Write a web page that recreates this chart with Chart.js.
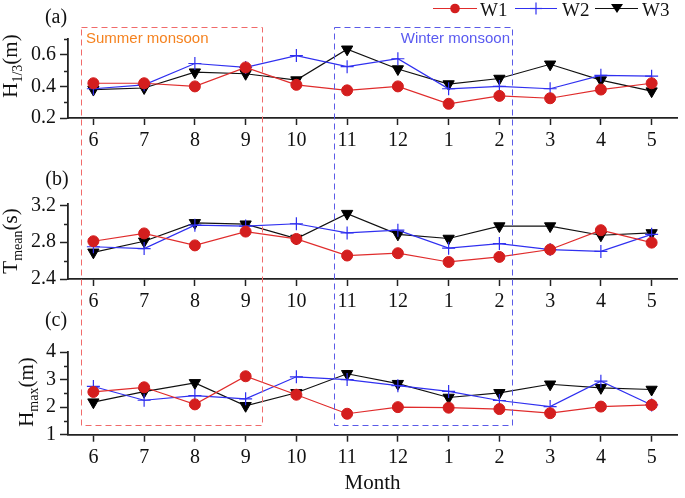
<!DOCTYPE html>
<html lang="en">
<head>
<meta charset="UTF-8">
<title>Monthly wave parameters</title>
<script src="https://cdn.jsdelivr.net/npm/chart.js"></script>
<style>
  body { margin: 0; background: #fff; }
  #wrap { position: relative; width: 685px; height: 498px; overflow: hidden;
          font-family: "Liberation Serif", "Times New Roman", serif; color: #111; }
  canvas { position: absolute; left: 0; }
  .ytitle { position: absolute; transform: translate(-50%, -50%) rotate(-90deg);
            white-space: nowrap; font-size: 21px; line-height: 1; }
  .ytitle sub { font-size: 14px; vertical-align: -5px; line-height: 0; }
  .plabel { position: absolute; font-size: 20px; line-height: 1; transform: translate(-50%, -50%); }
  svg { position: absolute; left: 0; top: 0; pointer-events: none; }
</style>
</head>
<body>
<div id="wrap">
  <canvas id="chartA" width="685" height="160" style="top:0"></canvas>
  <canvas id="chartB" width="685" height="170" style="top:150px"></canvas>
  <canvas id="chartC" width="685" height="188" style="top:310px"></canvas>

  <div class="ytitle" style="left:10px; top:66px">H<sub>1/3</sub>(m)</div>
  <div class="ytitle" style="left:10px; top:241px">T<sub>mean</sub>(s)</div>
  <div class="ytitle" style="left:26px; top:392px">H<sub>max</sub>(m)</div>

  <div class="plabel" style="left:56px; top:16px">(a)</div>
  <div class="plabel" style="left:57px; top:178px">(b)</div>
  <div class="plabel" style="left:56px; top:319px">(c)</div>

  <svg width="685" height="498">
    <!-- monsoon boxes -->
    <rect x="81.5" y="27.5" width="181" height="398" fill="none" stroke="#f06a6a" stroke-width="1" stroke-dasharray="6,4"/>
    <rect x="334.5" y="27.5" width="178" height="398" fill="none" stroke="#5a5ae8" stroke-width="1" stroke-dasharray="6,4"/>
    <text x="86" y="43" font-family="Liberation Sans, Arial, sans-serif" font-size="15" fill="#f5821f">Summer monsoon</text>
    <text x="510" y="43" text-anchor="end" font-family="Liberation Sans, Arial, sans-serif" font-size="15" fill="#5a5af0">Winter monsoon</text>
    <!-- legend -->
    <line x1="433" y1="8.5" x2="477" y2="8.5" stroke="#e02c2c" stroke-width="1.2"/>
    <circle cx="455" cy="8.5" r="4.8" fill="#d41e1e"/>
    <text x="480" y="15.5" font-family="Liberation Serif, serif" font-size="19" fill="#111">W1</text>
    <line x1="515" y1="8.5" x2="557" y2="8.5" stroke="#3030f0" stroke-width="1.2"/>
    <line x1="530" y1="8.5" x2="542" y2="8.5" stroke="#3030f0" stroke-width="1.2"/>
    <line x1="536" y1="2.5" x2="536" y2="14.5" stroke="#3030f0" stroke-width="1.2"/>
    <text x="562" y="15.5" font-family="Liberation Serif, serif" font-size="19" fill="#111">W2</text>
    <line x1="595" y1="8.5" x2="638" y2="8.5" stroke="#111" stroke-width="1.2"/>
    <path d="M611,4 L623,4 L617,13 Z" fill="#000"/>
    <text x="642" y="15.5" font-family="Liberation Serif, serif" font-size="19" fill="#111">W3</text>
  </svg>
</div>

<script>
  // months, June to May
  const months = ['6', '7', '8', '9', '10', '11', '12', '1', '2', '3', '4', '5'];

  // (a) significant wave height H1/3 (m)
  const h13W1 = [0.42, 0.42, 0.40, 0.52, 0.41, 0.375, 0.40, 0.29, 0.34, 0.325, 0.38, 0.42];
  const h13W2 = [0.385, 0.41, 0.545, 0.52, 0.595, 0.525, 0.575, 0.385, 0.40, 0.385, 0.47, 0.465];
  const h13W3 = [0.38, 0.39, 0.49, 0.48, 0.44, 0.635, 0.51, 0.415, 0.45, 0.54, 0.44, 0.37];

  // (b) mean wave period Tmean (s)
  const tmeanW1 = [2.81, 2.895, 2.765, 2.915, 2.835, 2.655, 2.68, 2.585, 2.64, 2.72, 2.93, 2.795];
  const tmeanW2 = [2.75, 2.73, 2.985, 2.975, 3.0, 2.9, 2.93, 2.735, 2.785, 2.72, 2.70, 2.885];
  const tmeanW3 = [2.69, 2.81, 3.01, 2.995, 2.84, 3.11, 2.885, 2.84, 2.975, 2.975, 2.875, 2.9];

  // (c) maximum wave height Hmax (m)
  const hmaxW1 = [2.55, 2.72, 2.10, 3.12, 2.45, 1.76, 2.0, 1.98, 1.93, 1.78, 2.02, 2.08];
  const hmaxW2 = [2.75, 2.25, 2.42, 2.30, 3.10, 3.0, 2.78, 2.57, 2.24, 2.02, 2.94, 2.08];
  const hmaxW3 = [2.18, 2.56, 2.88, 2.05, 2.52, 3.21, 2.85, 2.35, 2.52, 2.83, 2.70, 2.64];

  const serif = '"Liberation Serif", "Times New Roman", serif';
  const axisColor = '#222';

  // short minor ticks halfway between the labelled ones
  const minorTicks = {
    id: 'minorTicks',
    afterDraw(chart, args, opts) {
      if (!opts.step) return;
      const y = chart.scales.y;
      const ctx = chart.ctx;
      ctx.save();
      ctx.strokeStyle = axisColor;
      ctx.lineWidth = 1.5;
      y.ticks.forEach(t => {
        const v = t.value + opts.step;
        if (v > y.max + 1e-9) return;
        const p = Math.round(y.getPixelForValue(v)) + 0.5;
        ctx.beginPath();
        ctx.moveTo(y.right - 4, p);
        ctx.lineTo(y.right, p);
        ctx.stroke();
      });
      ctx.restore();
    }
  };
  Chart.register(minorTicks);

  function datasets(w1, w2, w3) {
    return [{
      label: 'W1', data: w1,
      borderColor: '#e02c2c', borderWidth: 1.2,
      pointStyle: 'circle', pointRadius: 5.5,
      pointBackgroundColor: '#d41e1e', pointBorderColor: '#d41e1e', pointBorderWidth: 1
    }, {
      label: 'W2', data: w2,
      borderColor: '#3030f0', borderWidth: 1.2,
      pointStyle: 'cross', pointRadius: 6.5,
      pointBorderColor: '#3030f0', pointBorderWidth: 1.2
    }, {
      label: 'W3', data: w3,
      borderColor: '#111', borderWidth: 1.2,
      pointStyle: 'triangle', pointRotation: 180, pointRadius: 6.5,
      pointBackgroundColor: '#000', pointBorderColor: '#000', pointBorderWidth: 1
    }];
  }

  function panel(id, w1, w2, w3, cfg) {
    new Chart(document.getElementById(id), {
      type: 'line',
      data: { labels: months, datasets: datasets(w1, w2, w3) },
      options: {
        responsive: false,
        animation: false,
        layout: { padding: { top: cfg.padTop, right: 8, left: 0, bottom: 0 } },
        plugins: {
          legend: { display: false },
          tooltip: { enabled: false },
          minorTicks: { step: cfg.minor }
        },
        scales: {
          x: {
            type: 'category',
            offset: true,
            grid: { display: true, drawOnChartArea: false, drawTicks: true, tickLength: 7, tickColor: axisColor, tickWidth: 1.5 },
            border: { display: true, color: axisColor, width: 1.8 },
            ticks: { color: '#111', font: { family: serif, size: 20 }, padding: 4, maxRotation: 0, autoSkip: false },
            title: cfg.xTitle
              ? { display: true, text: cfg.xTitle, color: '#111', font: { family: serif, size: 21 }, padding: { top: 0, bottom: 2 } }
              : { display: false },
            afterFit: s => { s.height = cfg.xHeight; }
          },
          y: {
            min: cfg.min,
            max: cfg.max,
            grid: { display: true, drawOnChartArea: false, drawTicks: true, tickLength: 8, tickColor: axisColor, tickWidth: 1.5 },
            border: { display: true, color: axisColor, width: 1.8 },
            ticks: { stepSize: cfg.step, includeBounds: false, color: '#111', font: { family: serif, size: 20 }, padding: 4 },
            afterFit: s => { s.width = 68; }
          }
        }
      }
    });
  }

  panel('chartA', h13W1, h13W2, h13W3, { min: 0.2, max: 0.7, step: 0.2, minor: 0.1, padTop: 39, xHeight: 42 });
  panel('chartB', tmeanW1, tmeanW2, tmeanW3, { min: 2.4, max: 3.22, step: 0.4, minor: 0.2, padTop: 53.5, xHeight: 41 });
  panel('chartC', hmaxW1, hmaxW2, hmaxW3, { min: 1, max: 4, step: 1, minor: 0.5, padTop: 42, xHeight: 63.3, xTitle: 'Month' });
</script>
</body>
</html>
